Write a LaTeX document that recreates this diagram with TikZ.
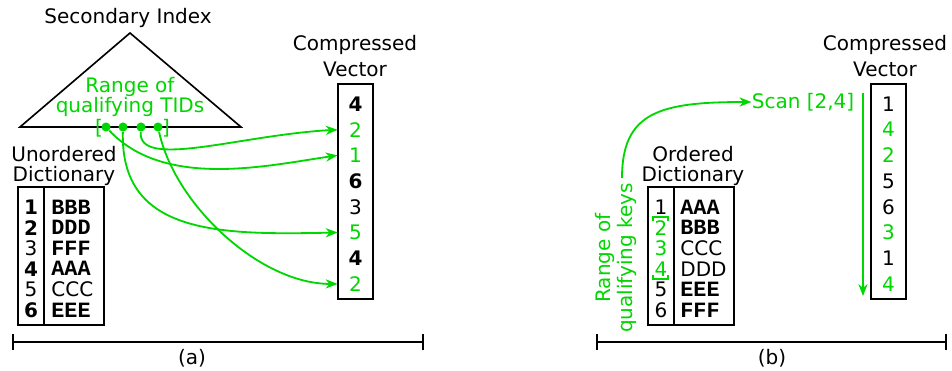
\documentclass[tikz,border=0pt]{standalone}
\usepackage{fontspec}
\setmainfont{DejaVu Sans}
\newfontfamily\dictmono{Liberation Mono}
\usetikzlibrary{arrows,arrows.meta,positioning}
\definecolor{tidgreen}{RGB}{0,214,0}

\begin{document}
\begin{tikzpicture}[x=0.55pt,y=-0.55pt,
  lbl/.style={font=\fontsize{11}{12}\selectfont, align=center, inner sep=0pt},
  ent/.style={font=\fontsize{11}{11}\selectfont, inner sep=0pt, minimum width=19.25pt, minimum height=12pt},
  num/.style={font=\fontsize{11}{11}\selectfont, inner sep=0pt},
  key/.style={font=\dictmono\bfseries\fontsize{12}{12}\selectfont, inner sep=0pt, anchor=west},
  keysans/.style={font=\fontsize{11}{11}\selectfont, inner sep=0pt, anchor=west},
  tid/.style={circle, fill=tidgreen, inner sep=0pt, minimum size=5pt},
  hop/.style={-{Stealth[length=6.5pt,width=5pt,inset=2pt]}, tidgreen, line width=1pt},
  box/.style={line width=0.9pt},
  span/.style={{Bar[width=9pt]}-{Bar[width=9pt]}, line width=0.9pt}]
\useasboundingbox (0,0) rectangle (952,371);

% (a) unordered dictionary with secondary index
\node[lbl] (secidx) at (128,18) {Secondary Index};
\draw[box] (130,33) -- (241,127) -- (20,127) -- cycle;
\node[lbl, text=tidgreen, font=\fontsize{11}{11.5}\selectfont] (tidrange) at (130,97) {Range of\\qualifying TIDs};
\node[lbl, text=tidgreen] (lbrk) at (99,128) {[};
\node[lbl, text=tidgreen] (rbrk) at (166,128) {]};
\foreach \x [count=\i] in {106,123,141,158}
  \node[tid] (t\i) at (\x,127) {};

\node[lbl, font=\fontsize{11}{14}\selectfont] (cva) at (355,56) {Compressed\\Vector};
\draw[box] (338,84) rectangle (373,299);
\foreach \v/\c [count=\i] in {\textbf{4}/black,2/tidgreen,1/tidgreen,\textbf{6}/black,3/black,5/tidgreen,\textbf{4}/black,2/tidgreen}
  \node[ent, text=\c] (va-\i) at (355.5,{104+(\i-1)*25.7}) {\v};

\node[lbl, font=\fontsize{11}{11}\selectfont] (uda) at (64,166) {Unordered\\Dictionary};
\draw[box] (18,187) rectangle (104,325);
\draw[box] (44,187) -- (44,325);
\foreach \n/\k/\s [count=\i] in {\textbf{1}/BBB/key,\textbf{2}/DDD/key,3/FFF/key,\textbf{4}/AAA/key,5/CCC/keysans,\textbf{6}/EEE/key} {
  \node[num] (ua-\i) at (31,{207+(\i-1)*20.6}) {\n};
  \node[\s] (uk-\i) at (51,{207+(\i-1)*20.6}) {\k};
}

\draw[hop] (t1) .. controls (165,190) and (270,165) .. (va-3.west);
\draw[hop] (t2) .. controls (120,235) and (220,235) .. (va-6.west);
\draw[hop] (t3) .. controls (138,170) and (240,135) .. (va-2.west);
\draw[hop] (t4) .. controls (175,205) and (260,284) .. (va-8.west);

\coordinate (spa-l) at (12,342);
\coordinate (spa-r) at (424,342);
\draw[span] (spa-l) -- (spa-r);
\node[lbl] (capa) at (192,358) {(a)};

% (b) ordered dictionary
\node[lbl, font=\fontsize{11}{14}\selectfont] (cvb) at (885,56) {Compressed\\Vector};
\draw[box] (871,84) rectangle (906,299);
\foreach \v/\c [count=\i] in {1/black,4/tidgreen,2/tidgreen,5/black,6/black,3/tidgreen,1/black,4/tidgreen}
  \node[ent, text=\c] (vb-\i) at (888.5,{104+(\i-1)*25.7}) {\v};

\node[lbl, font=\fontsize{11}{11}\selectfont] (odb) at (693,166) {Ordered\\Dictionary};
\draw[box] (648,187) rectangle (734,325);
\draw[box] (674,187) -- (674,325);
\foreach \k/\s/\c [count=\i] in {AAA/key/black,BBB/key/tidgreen,CCC/keysans/tidgreen,DDD/keysans/tidgreen,EEE/key/black,FFF/key/black} {
  \node[num, text=\c] (ob-\i) at (661,{207+(\i-1)*20.6}) {\i};
  \node[\s] (ok-\i) at (680,{207+(\i-1)*20.6}) {\k};
}
\draw[tidgreen, line width=0.8pt] (653,221) -- (653,217) -- (668,217) -- (668,221);
\draw[tidgreen, line width=0.8pt] (653,275) -- (653,279) -- (668,279) -- (668,275);

\node[lbl, text=tidgreen, rotate=90, font=\fontsize{11}{12}\selectfont] (keyrange) at (616,258) {Range of\\qualifying keys};
\coordinate (keytop) at (622,178);
\node[lbl, text=tidgreen] (scan) at (803,102) {Scan [2,4]};
\draw[hop] (keytop) .. controls (622,112) and (660,102) .. (scan.west);

\coordinate (scantop) at (863,93);
\coordinate (scanend) at (863,296);
\draw[hop] (scantop) -- (scanend);

\coordinate (spb-l) at (596,342);
\coordinate (spb-r) at (947,342);
\draw[span] (spb-l) -- (spb-r);
\node[lbl] (capb) at (772,358) {(b)};
\end{tikzpicture}
\end{document}
